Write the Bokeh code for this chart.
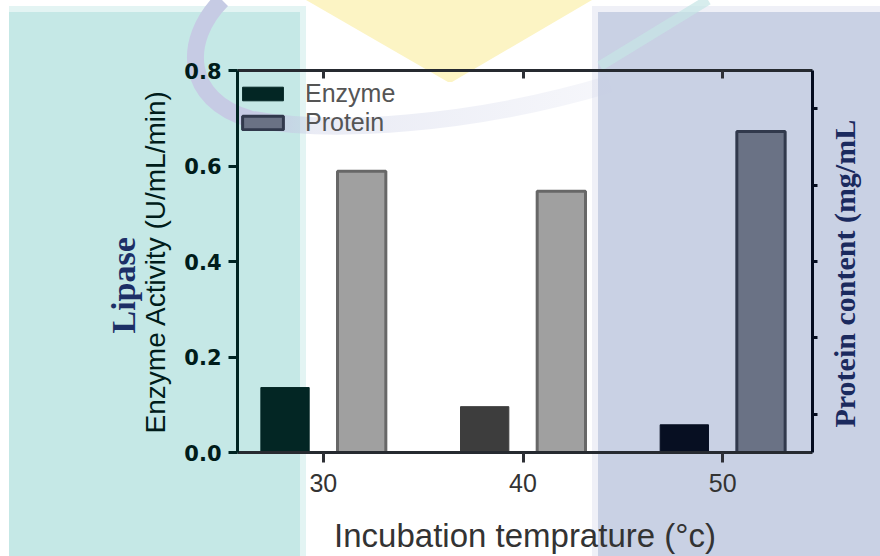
import math
import urllib.parse

from bokeh.embed import file_html
from bokeh.models import (ColumnDataSource, FixedTicker, InlineStyleSheet,
                          Legend, LegendItem, LinearAxis, PrintfTickFormatter,
                          Range1d, Title)
from bokeh.plotting import figure
from bokeh.resources import INLINE

# ---- data -------------------------------------------------------------
temperatures = [30, 40, 50]                 # incubation temperature (°C)
enzyme_activity = [0.136, 0.096, 0.058]     # lipase activity, U/mL/min (left axis)
protein_content = [0.736, 0.684, 0.840]     # protein content, mg/mL (right axis)
temp_ticks = [30, 40, 50]
activity_ticks = [0.0, 0.2, 0.4, 0.6, 0.8]
protein_ticks = [0.1, 0.3, 0.5, 0.7, 0.9]

# ---- styling ----------------------------------------------------------
WHITE = "#ffffff"
TEAL = "#c5e8e6"
LAVENDER = "#c9d1e4"
YELLOW = "#fcf4c4"


def burn(base, tint):
    """Linear-burn a base colour with a background tint."""
    b = [int(base[i:i + 2], 16) for i in (1, 3, 5)]
    t = [int(tint[i:i + 2], 16) for i in (1, 3, 5)]
    return "#%02x%02x%02x" % tuple(max(0, x + y - 255) for x, y in zip(b, t))


ENZ_FILL = "#3d3d3d"
PROT_FILL = "#a0a0a0"
PROT_LINE = "#676767"
INK = "#333333"
AXIS = "#3a3a3a"
FRAME_LINE = "#262a30"

enzyme_tint = [TEAL, WHITE, LAVENDER]
protein_tint = [WHITE, WHITE, LAVENDER]

OFFSET = 1.92
BAR_W = 2.42
RIGHT_TITLE_START = 0.0654   # where the right-hand title begins, in protein-axis units

# ---- page background with coloured bands --------------------------------
bg_svg = (
    "<svg xmlns='http://www.w3.org/2000/svg' width='880' height='556'>"
    "<defs><linearGradient id='arc' gradientUnits='userSpaceOnUse' x1='180' y1='0' x2='620' y2='0'>"
    "<stop offset='0' stop-color='#c6cbe4' stop-opacity='1'/>"
    "<stop offset='0.17' stop-color='#c6cbe4' stop-opacity='1'/>"
    "<stop offset='0.3' stop-color='#c6cbe4' stop-opacity='0.38'/>"
    "<stop offset='1' stop-color='#c6cbe4' stop-opacity='0.15'/>"
    "</linearGradient></defs>"
    f"<rect width='880' height='556' fill='{WHITE}'/>"
    f"<path d='M306 0 L592 0 L452 82 L448 82 Z' fill='{YELLOW}'/>"
    "<rect x='9' y='6' width='297' height='550' fill='#e3f4f3'/>"
    f"<rect x='9' y='12' width='291' height='544' fill='{TEAL}'/>"
    "<rect x='592' y='6' width='288' height='550' fill='#eff0f7'/>"
    f"<rect x='598' y='12' width='282' height='544' fill='{LAVENDER}'/>"
    "<path d='M222 0 C182 40 184 100 250 119 C330 134 470 126 610 84' "
    "stroke='url(#arc)' stroke-width='17' fill='none'/>"
    "<path d='M708 0 L600 66' stroke='#c6e6e5' stroke-opacity='0.7' stroke-width='10'/>"
    "</svg>"
)
bg_uri = "data:image/svg+xml;charset=utf-8," + urllib.parse.quote(bg_svg)

# ---- figure -----------------------------------------------------------
p = figure(width=880, height=556,
           x_range=Range1d(25.7, 54.5), y_range=Range1d(0, 0.8),
           output_backend="svg", toolbar_location=None,
           min_border_left=237, min_border_right=68,
           min_border_top=70, min_border_bottom=104,
           background_fill_color=None, border_fill_color=None,
           outline_line_color=None)
p.extra_y_ranges = {"protein": Range1d(0, 1.0)}
p.xgrid.visible = False
p.ygrid.visible = False
p.stylesheets = [InlineStyleSheet(
    css=f':host {{ background: url("{bg_uri}") no-repeat 0 0 / 880px 556px; }}')]

# bars
enz_src = ColumnDataSource(dict(
    x=[t - OFFSET for t in temperatures],
    top=enzyme_activity,
    color=[burn(ENZ_FILL, c) for c in enzyme_tint],
))
prot_src = ColumnDataSource(dict(
    x=[t + OFFSET for t in temperatures],
    top=protein_content,
    fill=[burn(PROT_FILL, c) for c in protein_tint],
    line=[burn(PROT_LINE, c) for c in protein_tint],
))
enz = p.vbar(x="x", top="top", bottom=0, width=BAR_W, source=enz_src,
             fill_color="color", line_color="color", line_width=1)
prot = p.vbar(x="x", top="top", bottom=0, width=BAR_W, source=prot_src,
              y_range_name="protein",
              fill_color="fill", line_color="line", line_width=3)

# bottom axis
xa = p.xaxis[0]
xa.ticker = FixedTicker(ticks=temp_ticks)
xa.axis_line_width = 3
xa.axis_line_color = FRAME_LINE
xa.major_tick_out = 10
xa.major_tick_in = 0
xa.major_tick_line_width = 3
xa.major_tick_line_color = "#2e3036"
xa.minor_tick_line_color = None
xa.major_label_text_font = "Liberation Sans"
xa.major_label_text_font_size = "25px"
xa.major_label_text_color = INK
xa.major_label_standoff = 11
xa.axis_label = "Incubation temprature (\u00b0c)"
xa.axis_label_text_font = "Liberation Sans"
xa.axis_label_text_font_style = "normal"
xa.axis_label_text_font_size = "33px"
xa.axis_label_text_color = INK
xa.axis_label_standoff = 22

# left axis
ya = p.yaxis[0]
ya.ticker = FixedTicker(ticks=activity_ticks)
ya.formatter = PrintfTickFormatter(format="%.1f")
ya.axis_line_width = 3
ya.axis_line_color = burn(AXIS, TEAL)
ya.major_tick_out = 9
ya.major_tick_in = 0
ya.major_tick_line_width = 3
ya.major_tick_line_color = burn(AXIS, TEAL)
ya.minor_tick_line_color = None
ya.major_label_text_font = "DejaVu Sans"
ya.major_label_text_font_style = "bold"
ya.major_label_text_font_size = "21px"
ya.major_label_text_color = burn(INK, TEAL)
ya.major_label_standoff = 7
ya.axis_label = "Enzyme Activity (U/mL/min)"
ya.axis_label_text_font = "Liberation Sans"
ya.axis_label_text_font_style = "normal"
ya.axis_label_text_font_size = "28px"
ya.axis_label_text_color = burn(INK, TEAL)
ya.axis_label_standoff = 10

# first title line on the left, set a little below the middle
p.add_layout(Title(text="Lipase", align="left", offset=119,
                   vertical_align="bottom", standoff=-8,
                   text_font="Liberation Serif", text_font_style="bold",
                   text_font_size="34px", text_color="#1c2f66"), "left")

# top border with inward ticks
top = LinearAxis(ticker=FixedTicker(ticks=temp_ticks),
                 major_label_overrides={30: "", 40: "", 50: ""})
top.axis_line_width = 3
top.axis_line_color = FRAME_LINE
top.major_tick_in = 8
top.major_tick_out = 0
top.major_tick_line_width = 3
top.major_tick_line_color = "#2e3036"
top.minor_tick_line_color = None
p.add_layout(top, "above")

# right axis for protein content
right = LinearAxis(y_range_name="protein", ticker=FixedTicker(ticks=protein_ticks),
                   major_label_overrides={t: "" for t in protein_ticks})
right.axis_line_width = 3
right.axis_line_color = burn(AXIS, LAVENDER)
right.major_tick_out = 5
right.major_tick_in = 0
right.major_tick_line_width = 3
right.major_tick_line_color = burn(AXIS, LAVENDER)
right.minor_tick_line_color = None
right.major_label_standoff = 0
p.add_layout(right, "right")

# right-hand title, written as a single rotated label that reads upwards
rtitle = LinearAxis(y_range_name="protein",
                    ticker=FixedTicker(ticks=[RIGHT_TITLE_START]),
                    major_label_overrides={RIGHT_TITLE_START: "Protein content (mg/mL"},
                    major_label_orientation=math.pi / 2,
                    axis_line_color=None, major_tick_line_color=None,
                    minor_tick_line_color=None, major_tick_out=0, major_tick_in=0,
                    major_label_standoff=27)
rtitle.major_label_text_font = "Liberation Serif"
rtitle.major_label_text_font_style = "bold"
rtitle.major_label_text_font_size = "30px"
rtitle.major_label_text_color = "#1b2a5e"
p.add_layout(rtitle, "right")

# legend
legend = Legend(
    items=[LegendItem(label="Enzyme", renderers=[enz], index=0),
           LegendItem(label="Protein", renderers=[prot], index=2)],
    location=(0, 315), orientation="vertical",
    background_fill_alpha=0, border_line_color=None,
    glyph_width=51, glyph_height=17, label_standoff=17,
    padding=3, margin=0, spacing=0, label_height=28,
    label_text_font="Liberation Sans", label_text_font_size="25px",
    label_text_color="#555555",
)
p.add_layout(legend)

open("out.html", "w").write(file_html(p, INLINE))
